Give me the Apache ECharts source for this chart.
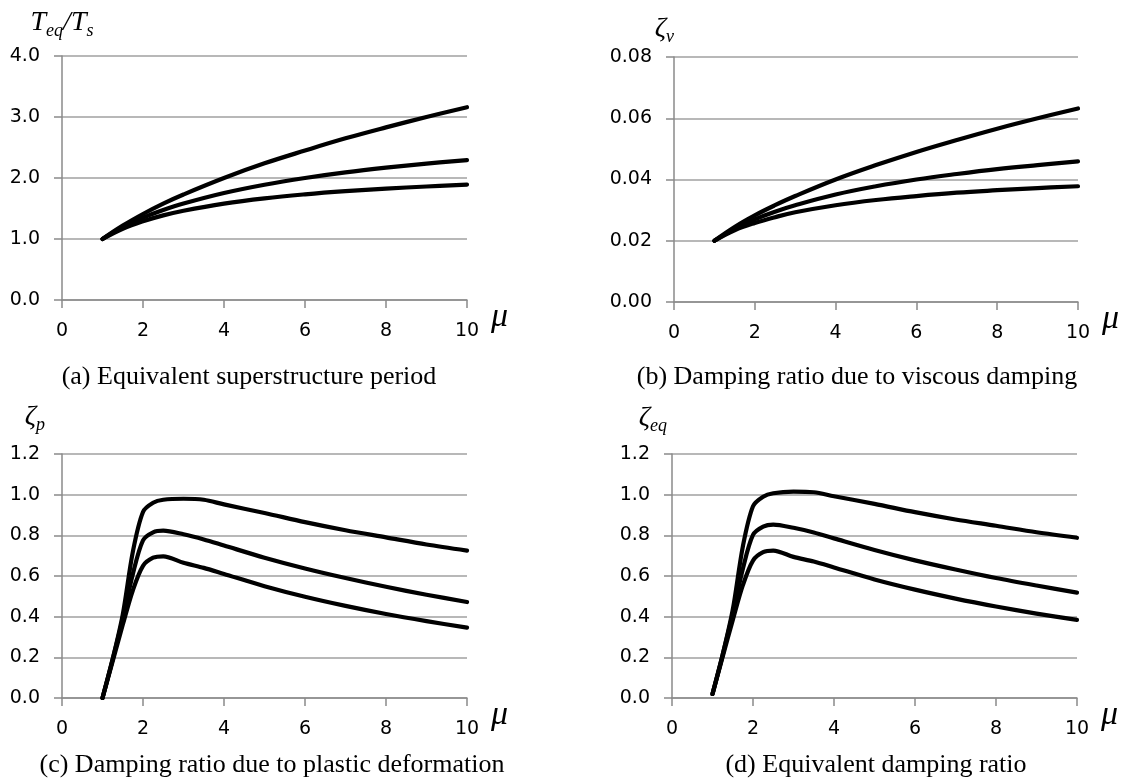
<!DOCTYPE html>
<html>
<head>
<meta charset="utf-8">
<script src="https://cdn.jsdelivr.net/npm/echarts@6/dist/echarts.min.js"></script>
<style>
html,body{margin:0;padding:0;background:#fff;}
#chart{width:1129px;height:783px;}
</style>
</head>
<body>
<div id="chart"></div>
<script>
// ---- data ----
const muA = [1, 1.5, 2, 2.5, 3, 4, 5, 6, 7, 8, 9, 10];
const periodTop = [1, 1.22, 1.41, 1.58, 1.73, 2.0, 2.24, 2.45, 2.65, 2.83, 3.0, 3.16];
const periodMid = [1, 1.195, 1.348, 1.474, 1.581, 1.754, 1.89, 2.0, 2.092, 2.169, 2.236, 2.294];
const periodBot = [1, 1.168, 1.291, 1.387, 1.464, 1.581, 1.667, 1.732, 1.784, 1.826, 1.861, 1.89];

const viscTop = [0.02, 0.0245, 0.0283, 0.0316, 0.0346, 0.04, 0.0447, 0.049, 0.0529, 0.0566, 0.06, 0.0632];
const viscMid = [0.02, 0.0239, 0.027, 0.0295, 0.0316, 0.0351, 0.0378, 0.04, 0.0418, 0.0434, 0.0447, 0.0459];
const viscBot = [0.02, 0.0234, 0.0258, 0.0277, 0.0293, 0.0316, 0.0333, 0.0346, 0.0357, 0.0365, 0.0372, 0.0378];

const muC = [1, 1.25, 1.5, 1.75, 2, 2.25, 2.5, 3, 3.5, 4, 5, 6, 7, 8, 9, 10];
const plasticTop = [0, 0.19, 0.41, 0.72, 0.915, 0.96, 0.975, 0.98, 0.975, 0.952, 0.91, 0.865, 0.825, 0.79, 0.755, 0.725];
const plasticMid = [0, 0.19, 0.39, 0.61, 0.775, 0.815, 0.823, 0.805, 0.78, 0.75, 0.69, 0.637, 0.59, 0.547, 0.508, 0.472];
const plasticBot = [0, 0.18, 0.36, 0.53, 0.65, 0.69, 0.697, 0.665, 0.64, 0.61, 0.55, 0.498, 0.453, 0.413, 0.378, 0.346];

const eqTop = [0.02, 0.212, 0.434, 0.746, 0.943, 0.99, 1.007, 1.015, 1.012, 0.992, 0.955, 0.914, 0.878, 0.847, 0.815, 0.788];
const eqMid = [0.02, 0.212, 0.414, 0.636, 0.802, 0.843, 0.853, 0.837, 0.814, 0.785, 0.728, 0.677, 0.632, 0.59, 0.553, 0.518];
const eqBot = [0.02, 0.202, 0.383, 0.555, 0.676, 0.717, 0.725, 0.694, 0.671, 0.642, 0.583, 0.533, 0.489, 0.45, 0.415, 0.384];

const xTicks = {min: 0, max: 10, interval: 2};
const captions = [
  '(a) Equivalent superstructure period',
  '(b) Damping ratio due to viscous damping',
  '(c) Damping ratio due to plastic deformation',
  '(d) Equivalent damping ratio'
];

// ---- styling / layout ----
const AXIS_GRAY = '#8a8a8a';
const GRID_GRAY = '#a0a0a0';
const LABEL_FONT = 'DejaVu Sans';
const SERIF = 'Liberation Serif';

const grids = [
  {left: 62, top: 56, width: 405, height: 244},
  {left: 674, top: 57, width: 404, height: 245},
  {left: 62, top: 454, width: 405, height: 244},
  {left: 672, top: 454, width: 405, height: 244}
];

const nameRich = {
  m: {fontFamily: SERIF, fontStyle: 'italic', fontSize: 28, lineHeight: 34, color: '#000'},
  s: {fontFamily: SERIF, fontStyle: 'italic', fontSize: 18, lineHeight: 18, verticalAlign: 'bottom', color: '#000'}
};

function xAxis(i) {
  return {
    type: 'value', gridIndex: i, min: xTicks.min, max: xTicks.max, interval: xTicks.interval,
    name: 'μ', nameLocation: 'end', nameGap: 24,
    nameTextStyle: {fontFamily: SERIF, fontStyle: 'italic', fontSize: 34, lineHeight: 34, color: '#000',
      align: 'left', verticalAlign: 'top'},
    axisLine: {show: true, onZero: false, lineStyle: {color: AXIS_GRAY, width: 1.5}},
    axisTick: {show: true, length: 8, lineStyle: {color: AXIS_GRAY, width: 1.5}},
    axisLabel: {margin: 22, fontFamily: LABEL_FONT, fontSize: 19, color: '#000',
      showMinLabel: true, showMaxLabel: true},
    splitLine: {show: false}
  };
}

function yAxis(i, max, interval, digits, name, align, padRight, gap) {
  return {
    type: 'value', gridIndex: i, min: 0, max: max, interval: interval,
    name: name, nameLocation: 'end', nameGap: gap,
    nameTextStyle: {align: align, verticalAlign: 'bottom', padding: [0, padRight, 0, 0], rich: nameRich},
    axisLine: {show: true, lineStyle: {color: AXIS_GRAY, width: 1.5}},
    axisTick: {show: true, length: 8, lineStyle: {color: AXIS_GRAY, width: 1.5}},
    axisLabel: {margin: 22, fontFamily: LABEL_FONT, fontSize: 19, color: '#000',
      formatter: v => v.toFixed(digits)},
    splitLine: {show: true, lineStyle: {color: GRID_GRAY, width: 1.5}}
  };
}

function zip(xs, ys) { return xs.map((x, k) => [x, ys[k]]); }

function curve(i, xs, ys, smooth) {
  return {
    type: 'line', xAxisIndex: i, yAxisIndex: i, data: zip(xs, ys),
    symbol: 'none', smooth: smooth, silent: true,
    lineStyle: {color: '#000', width: 4.2, cap: 'round', join: 'round'}
  };
}

const captionPos = [[249, 377], [857, 377], [272, 765], [876, 765]];

const option = {
  backgroundColor: '#fff',
  animation: false,
  grid: grids,
  xAxis: [xAxis(0), xAxis(1), xAxis(2), xAxis(3)],
  yAxis: [
    yAxis(0, 4, 1, 1, '{m|T}{s|eq}{m|/T}{s|s}', 'center', 0, 16),
    yAxis(1, 0.08, 0.02, 2, '{m|ζ}{s|v}', 'right', 0, 11),
    yAxis(2, 1.2, 0.2, 1, '{m|ζ}{s|p}', 'right', 17, 20),
    yAxis(3, 1.2, 0.2, 1, '{m|ζ}{s|eq}', 'right', 5, 19)
  ],
  series: [
    curve(0, muA, periodTop, 0.4), curve(0, muA, periodMid, 0.4), curve(0, muA, periodBot, 0.4),
    curve(1, muA, viscTop, 0.4), curve(1, muA, viscMid, 0.4), curve(1, muA, viscBot, 0.4),
    curve(2, muC, plasticTop, 0.3), curve(2, muC, plasticMid, 0.3), curve(2, muC, plasticBot, 0.3),
    curve(3, muC, eqTop, 0.3), curve(3, muC, eqMid, 0.3), curve(3, muC, eqBot, 0.3)
  ],
  graphic: captions.map((t, k) => ({
    type: 'text', x: captionPos[k][0], y: captionPos[k][1], silent: true,
    style: {text: t, fontFamily: SERIF, fontSize: 26, fill: '#000', align: 'center', verticalAlign: 'middle'}
  }))
};

const chart = echarts.init(document.getElementById('chart'), null, {renderer: 'canvas'});
chart.setOption(option);
</script>
</body>
</html>
